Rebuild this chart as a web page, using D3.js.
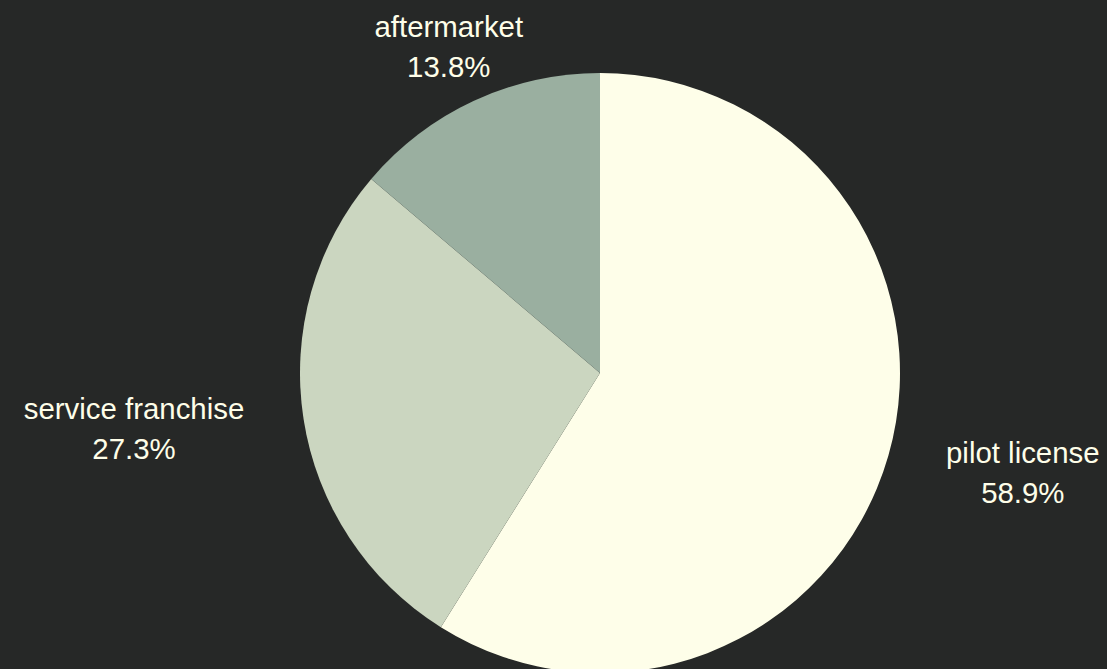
<!DOCTYPE html>
<html>
<head>
<meta charset="utf-8">
<script src="https://cdn.jsdelivr.net/npm/d3@7"></script>
<style>
  html, body { margin: 0; padding: 0; background: #262827; }
  svg { display: block; }
</style>
</head>
<body>
<svg id="chart" width="1107" height="669"></svg>
<script>
// data
const categories = ["pilot license", "service franchise", "aftermarket"];
const shares = [58.9, 27.3, 13.8];
const sliceColors = ["#fefee9", "#cbd6c0", "#9aafa0"];

const width = 1107, height = 669;
const cx = 600, cy = 373, radius = 300;

const svg = d3.select("#chart");
svg.append("rect").attr("width", width).attr("height", height).attr("fill", "#262827");

const g = svg.append("g").attr("transform", `translate(${cx}, ${cy})`);

const data = categories.map((c, i) => ({ name: c, value: shares[i] }));

const pie = d3.pie().sort(null).value(d => d.value);
const arc = d3.arc().innerRadius(0).outerRadius(radius);
const color = d3.scaleOrdinal().domain(categories).range(sliceColors);

const arcs = pie(data);

// slices
g.selectAll(".slice")
  .data(arcs)
  .enter()
  .append("path")
  .attr("class", "slice")
  .attr("d", arc)
  .attr("fill", d => color(d.data.name));

// labels, placed at 1.2 * radius on the mid angle
const labelR = radius * 1.2;
const labels = g.selectAll(".label")
  .data(arcs)
  .enter()
  .append("g")
  .attr("class", "label")
  .attr("transform", d => {
    const a = (d.startAngle + d.endAngle) / 2;
    return `translate(${Math.sin(a) * labelR}, ${-Math.cos(a) * labelR})`;
  });

labels.each(function(d) {
  const sel = d3.select(this);
  const a = (d.startAngle + d.endAngle) / 2;
  const s = Math.sin(a);
  const lines = [d.data.name, d.data.value.toFixed(1) + "%"];
  const texts = lines.map((t, i) => sel.append("text")
    .attr("y", i === 0 ? -20 : 20)
    .attr("dominant-baseline", "central")
    .attr("text-anchor", "middle")
    .style("font-family", "'Liberation Sans', Arial, sans-serif")
    .style("font-size", "29.4px")
    .style("fill", "#fefee9")
    .text(t));
  // block width so lines stay centred inside the block
  const w = d3.max(texts, t => t.node().getComputedTextLength());
  let shift = 0;
  if (Math.abs(s) >= 0.5) shift = s > 0 ? w / 2 : -w / 2;
  texts.forEach(t => t.attr("x", shift));
});
</script>
</body>
</html>
